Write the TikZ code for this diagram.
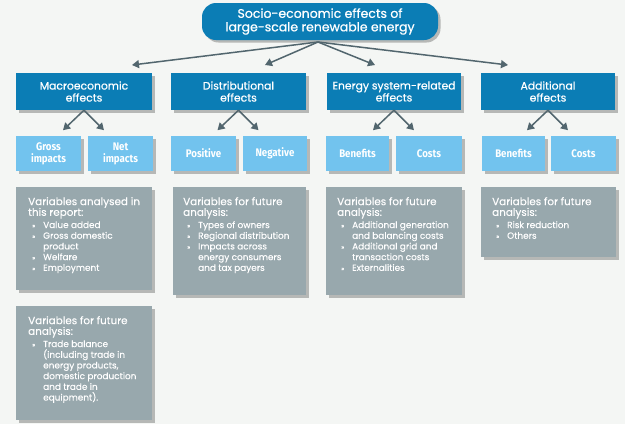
\documentclass[tikz,border=0pt]{standalone}
\usepackage{fontspec}
\setmainfont{Poppins}
\newfontfamily\condfont[FakeStretch=0.88]{Fira Sans}
\newfontfamily\medfont[FakeBold=0.6]{Poppins}
\newfontfamily\itemfam[FakeBold=0.3]{Poppins}
\usetikzlibrary{arrows.meta,shadows}
\definecolor{bg}{HTML}{F4F6F4}
\definecolor{dblue}{HTML}{0B7DB5}
\definecolor{lblue}{HTML}{72C3EE}
\definecolor{greybox}{HTML}{98A8AD}
\definecolor{arrowc}{HTML}{52666E}
\newcommand\bitem[1]{\hspace*{4pt}\makebox[11pt][l]{\fontsize{6.5}{8}\selectfont»}#1}
\newcommand\bcont[1]{\hspace*{15pt}#1}
\newcommand\headfont{\fontsize{10.4}{11.5}\selectfont}
\newcommand\itemfont{\itemfam\fontsize{8.9}{10.7}\selectfont}
\tikzset{
  shad/.style={drop shadow={shadow xshift=2.5pt,shadow yshift=-2.5pt,opacity=0.25,fill=black}},
  titlebox/.style={shad, fill=dblue, rounded corners=14pt, text=white, align=center,
    font=\medfont\fontsize{12.5}{13.5}\selectfont, minimum width=236pt, minimum height=37pt, inner sep=0pt},
  effbox/.style={shad, fill=dblue, text=white, align=center,
    font=\medfont\fontsize{10.8}{12}\selectfont, minimum height=37pt, inner sep=0pt},
  subbox/.style={shad, fill=lblue, text=white, align=center,
    font=\condfont\bfseries\fontsize{11}{12}\selectfont, minimum height=35pt, inner sep=0pt},
  varbox/.style={shad, fill=greybox, inner sep=0pt, anchor=north west},
  vartext/.style={text=white, anchor=north west, align=left, inner sep=0pt, font=\itemfont},
  conn/.style={draw=arrowc, line width=1.5pt, -{Triangle[width=8pt,length=7pt]}}
}
\begin{document}
\begin{tikzpicture}[x=1pt,y=-1pt]
\fill[bg] (0,0) rectangle (625,424);
\useasboundingbox (0,0) rectangle (625,424);

% title
\node[titlebox] (title) at (320,21.5) {Socio-economic effects of\\large-scale renewable energy};

% level 1
\node[effbox, minimum width=136pt] (m) at (84,91.5) {Macroeconomic\\effects};
\node[effbox, minimum width=135pt] (d) at (238.5,91.5) {Distributional\\effects};
\node[effbox, minimum width=134pt] (e) at (394,91.5) {Energy system-related\\effects};
\node[effbox, minimum width=134pt] (a) at (548,91.5) {Additional\\effects};

% level 2
\node[subbox, minimum width=65pt] (gi) at (48.5,153.5) {Gross\\impacts};
\node[subbox, minimum width=65pt] (ni) at (120.5,153.5) {Net\\impacts};
\node[subbox, minimum width=65pt] (po) at (203.5,153.5) {Positive};
\node[subbox, minimum width=64pt] (ne) at (275,153.5) {Negative};
\node[subbox, minimum width=63pt] (eb) at (357.5,153.5) {Benefits};
\node[subbox, minimum width=66pt] (ec) at (429,153.5) {Costs};
\node[subbox, minimum width=63pt] (ab) at (513.5,153.5) {Benefits};
\node[subbox, minimum width=65pt] (ac) at (583.5,153.5) {Costs};

% arrows from title
\coordinate (to) at (318,42);
\coordinate (t1) at (132,65);
\coordinate (t2) at (265,65);
\coordinate (t3) at (375,65);
\coordinate (t4) at (508,65);
\draw[conn] (to) -- (t1);
\draw[conn] (to) -- (t2);
\draw[conn] (to) -- (t3);
\draw[conn] (to) -- (t4);

% arrows from level 1
\foreach \n in {m,d,e,a}{
  \coordinate (\n l) at ([xshift=-21pt,yshift=-20pt]\n.south);
  \coordinate (\n r) at ([xshift=20pt,yshift=-20pt]\n.south);
  \draw[conn] (\n.south) -- (\n l);
  \draw[conn] (\n.south) -- (\n r);
}

% grey boxes
\node[varbox, minimum width=136pt, minimum height=103pt] (v1) at (16,187) {};
\node[varbox, minimum width=133pt, minimum height=108pt] (v2) at (173,187) {};
\node[varbox, minimum width=136pt, minimum height=108pt] (v3) at (326,187) {};
\node[varbox, minimum width=135pt, minimum height=70pt] (v4) at (481,187) {};
\node[varbox, minimum width=136pt, minimum height=114pt] (v5) at (16,306) {};

\node[vartext] (x1) at ([xshift=12pt,yshift=-10pt]v1.north west) {\headfont Variables analysed in\\ \headfont this report:\\[1.5pt]
  \bitem{Value added}\\ \bitem{Gross domestic}\\ \bcont{product}\\ \bitem{Welfare}\\ \bitem{Employment}};
\node[vartext] (x2) at ([xshift=10pt,yshift=-10pt]v2.north west) {\headfont Variables for future\\ \headfont analysis:\\[1.5pt]
  \bitem{Types of owners}\\ \bitem{Regional distribution}\\ \bitem{Impacts across}\\ \bcont{energy consumers}\\ \bcont{and tax payers}};
\node[vartext] (x3) at ([xshift=11pt,yshift=-10pt]v3.north west) {\headfont Variables for future\\ \headfont analysis:\\[1.5pt]
  \bitem{Additional generation}\\ \bcont{and balancing costs}\\ \bitem{Additional grid and}\\ \bcont{transaction costs}\\ \bitem{Externalities}};
\node[vartext] (x4) at ([xshift=11pt,yshift=-10pt]v4.north west) {\headfont Variables for future\\ \headfont analysis:\\[1.5pt]
  \bitem{Risk reduction}\\ \bitem{Others}};
\node[vartext] (x5) at ([xshift=12pt,yshift=-10pt]v5.north west) {\headfont Variables for future\\ \headfont analysis:\\[1.5pt]
  \bitem{Trade balance}\\ \bcont{(including trade in}\\ \bcont{energy products,}\\ \bcont{domestic production}\\ \bcont{and trade in}\\ \bcont{equipment).}};
\end{tikzpicture}
\end{document}
